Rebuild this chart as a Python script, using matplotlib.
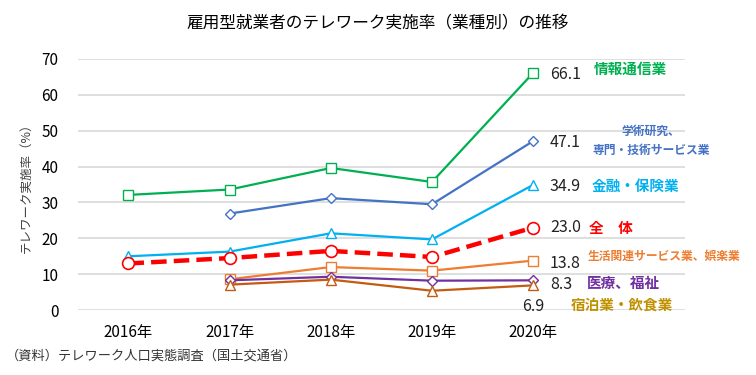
import matplotlib
matplotlib.use("Agg")
import matplotlib.pyplot as plt

plt.rcParams['font.family'] = ['Noto Sans CJK JP', 'DejaVu Sans']

years = ["2016年", "2017年", "2018年", "2019年", "2020年"]

# None = no survey value for that year
info_comm = [32.1, 33.6, 39.6, 35.7, 66.1]
academic = [None, 26.9, 31.2, 29.5, 47.1]
finance = [15.0, 16.3, 21.4, 19.7, 34.9]
overall = [13.0, 14.5, 16.5, 14.8, 23.0]
living = [None, 8.6, 12.0, 11.0, 13.8]
medical = [None, 8.3, 9.3, 8.2, 8.3]
lodging = [None, 7.1, 8.5, 5.4, 6.9]

series = [
    # values, name, line colour, text colour, marker, name offset (pt), value offset (pt)
    (info_comm, "情報通信業", "#00B050", "#00B050", "s", (70, 3), (12, -1)),
    (academic, "学術研究、\n専門・技術サービス業", "#4472C4", "#4472C4", "D", (85, 0), (12, -1)),
    (finance, "金融・保険業", "#00B0F0", "#00B0F0", "^", (74, -1), (12, -1)),
    (overall, "全\u3000体", "#FF0000", "#FF0000", "o", (56, 0), (12, 0)),
    (living, "生活関連サービス業、娯楽業", "#ED7D31", "#ED7D31", "s", (94, 3), (12, -2)),
    (medical, "医療、福祉", "#7030A0", "#7030A0", "D", (65, -2), (12, -3)),
    (lodging, "宿泊業・飲食業", "#C55A11", "#BF9000", "^", (64, -14), (0, -15)),
]

fig, ax = plt.subplots(figsize=(7.56, 3.75), dpi=100)
fig.subplots_adjust(left=0.103, right=0.906, bottom=0.173, top=0.843)

x = list(range(len(years)))
for vals, name, col, tcol, mk, name_off, val_off in series:
    xs = [i for i, v in zip(x, vals) if v is not None]
    ys = [v for v in vals if v is not None]
    if name.startswith("全"):
        ax.plot(xs, ys, color=col, lw=3.2, ls=(0, (3.5, 1.6)), marker=mk, ms=8.5,
                mfc="white", mec=col, mew=1.2, zorder=4)
    else:
        ax.plot(xs, ys, color=col, lw=1.6, marker=mk, ms=7 if mk != "D" else 5.5,
                mfc="white", mec=col, mew=1.0, zorder=3)
    ax.annotate(f"{ys[-1]:.1f}", (xs[-1], ys[-1]), xytext=val_off, textcoords="offset points",
                ha="left" if val_off[0] else "center", va="center", fontsize=11.5, color="#222222")
    ax.annotate(name, (xs[-1], ys[-1]), xytext=name_off, textcoords="offset points",
                ha="center", va="center", color=tcol, fontweight="bold",
                fontsize=8.5 if ("\n" in name or "娯楽" in name) else 10.5,
                linespacing=1.6)

ax.set_xlim(-0.5, 5.5)
ax.set_ylim(0, 70)
ax.set_yticks(range(0, 71, 10))
ax.set_xticks(x)
ax.set_xticklabels(years)
ax.tick_params(length=0, labelsize=11, pad=10)
ax.tick_params(axis="y", pad=14)
ax.grid(axis="y", color="#D9D9D9", lw=1.2)
ax.set_axisbelow(True)
for s in ax.spines.values():
    s.set_visible(False)
ax.set_ylabel("テレワーク実施率（%）", fontsize=9, color="#404040", labelpad=6)

fig.suptitle("雇用型就業者のテレワーク実施率（業種別）の推移", fontsize=12, y=0.96)
fig.text(0.008, 0.04, "（資料）テレワーク人口実態調査（国土交通省）", fontsize=9.5, color="#333333")

fig.savefig("out.png", dpi=100)
